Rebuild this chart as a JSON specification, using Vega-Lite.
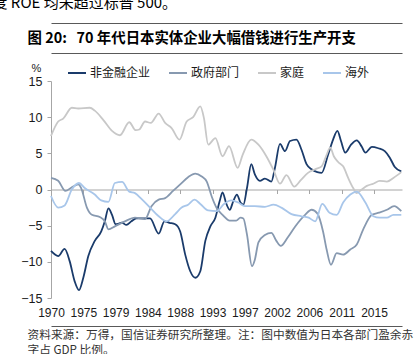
{
"$schema": "https://vega.github.io/schema/vega-lite/v6.json",
"width": 351, "height": 217,
"autosize": {"type": "none"},
"padding": {"left": 51, "top": 81, "right": 18, "bottom": 56},
"background": "white",
"config": {"view": {"stroke": null}, "font": "Liberation Sans"},
"data": {"values": [
{"s":"非金融企业","t":1970.5,"v":-8.5},{"s":"非金融企业","t":1971.5,"v":-9.2},{"s":"非金融企业","t":1972.4,"v":-8.2},{"s":"非金融企业","t":1973.1,"v":-9.9},{"s":"非金融企业","t":1973.8,"v":-12.7},{"s":"非金融企业","t":1974.4,"v":-13.9},{"s":"非金融企业","t":1975.0,"v":-12.2},{"s":"非金融企业","t":1975.7,"v":-9.2},{"s":"非金融企业","t":1976.6,"v":-7.1},{"s":"非金融企业","t":1977.5,"v":-5.8},{"s":"非金融企业","t":1978.0,"v":-4.4},{"s":"非金融企业","t":1978.5,"v":-2.6},{"s":"非金融企业","t":1979.0,"v":-3.5},{"s":"非金融企业","t":1979.5,"v":-4.8},{"s":"非金融企业","t":1980.4,"v":-4.6},{"s":"非金融企业","t":1981.0,"v":-4.9},{"s":"非金融企业","t":1981.7,"v":-4.4},{"s":"非金融企业","t":1982.4,"v":-4.0},{"s":"非金融企业","t":1983.4,"v":-4.0},{"s":"非金融企业","t":1984.3,"v":-4.0},{"s":"非金融企业","t":1985.5,"v":-6.1},{"s":"非金融企业","t":1986.3,"v":-4.4},{"s":"非金融企业","t":1987.0,"v":-4.6},{"s":"非金融企业","t":1987.8,"v":-4.8},{"s":"非金融企业","t":1988.5,"v":-5.8},{"s":"非金融企业","t":1989.2,"v":-9.0},{"s":"非金融企业","t":1989.9,"v":-11.3},{"s":"非金融企业","t":1990.6,"v":-12.2},{"s":"非金融企业","t":1991.3,"v":-11.3},{"s":"非金融企业","t":1992.0,"v":-7.1},{"s":"非金融企业","t":1992.7,"v":-5.1},{"s":"非金融企业","t":1993.4,"v":-3.9},{"s":"非金融企业","t":1994.0,"v":-1.6},{"s":"非金融企业","t":1994.4,"v":-0.4},{"s":"非金融企业","t":1994.9,"v":-1.9},{"s":"非金融企业","t":1995.4,"v":-2.8},{"s":"非金融企业","t":1995.9,"v":-1.6},{"s":"非金融企业","t":1996.4,"v":-0.7},{"s":"非金融企业","t":1996.9,"v":-1.8},{"s":"非金融企业","t":1997.3,"v":-2.1},{"s":"非金融企业","t":1997.8,"v":0.2},{"s":"非金融企业","t":1998.4,"v":3.5},{"s":"非金融企业","t":1998.9,"v":2.1},{"s":"非金融企业","t":1999.6,"v":1.2},{"s":"非金融企业","t":2000.3,"v":1.5},{"s":"非金融企业","t":2001.2,"v":1.1},{"s":"非金融企业","t":2001.7,"v":3.0},{"s":"非金融企业","t":2002.4,"v":6.3},{"s":"非金融企业","t":2003.1,"v":5.3},{"s":"非金融企业","t":2003.8,"v":6.7},{"s":"非金融企业","t":2004.7,"v":6.9},{"s":"非金融企业","t":2005.4,"v":5.5},{"s":"非金融企业","t":2006.1,"v":3.5},{"s":"非金融企业","t":2006.8,"v":2.8},{"s":"非金融企业","t":2007.6,"v":2.4},{"s":"非金融企业","t":2008.2,"v":2.3},{"s":"非金融企业","t":2009.1,"v":4.8},{"s":"非金融企业","t":2009.8,"v":6.9},{"s":"非金融企业","t":2010.4,"v":8.1},{"s":"非金融企业","t":2010.9,"v":6.7},{"s":"非金融企业","t":2011.5,"v":5.1},{"s":"非金融企业","t":2012.3,"v":6.2},{"s":"非金融企业","t":2013.1,"v":6.8},{"s":"非金融企业","t":2013.8,"v":5.9},{"s":"非金融企业","t":2014.3,"v":5.1},{"s":"非金融企业","t":2015.2,"v":5.9},{"s":"非金融企业","t":2016.1,"v":5.7},{"s":"非金融企业","t":2017.0,"v":5.3},{"s":"非金融企业","t":2017.7,"v":4.4},{"s":"非金融企业","t":2018.4,"v":3.1},{"s":"非金融企业","t":2019.3,"v":2.5},
{"s":"政府部门","t":1970.5,"v":1.6},{"s":"政府部门","t":1971.5,"v":1.2},{"s":"政府部门","t":1972.5,"v":-0.2},{"s":"政府部门","t":1973.4,"v":0.3},{"s":"政府部门","t":1974.3,"v":0.7},{"s":"政府部门","t":1974.7,"v":0.2},{"s":"政府部门","t":1975.5,"v":-2.5},{"s":"政府部门","t":1976.2,"v":-3.5},{"s":"政府部门","t":1977.3,"v":-3.8},{"s":"政府部门","t":1978.0,"v":-4.4},{"s":"政府部门","t":1978.5,"v":-5.5},{"s":"政府部门","t":1979.4,"v":-5.1},{"s":"政府部门","t":1980.8,"v":-4.4},{"s":"政府部门","t":1982.2,"v":-3.9},{"s":"政府部门","t":1983.6,"v":-4.1},{"s":"政府部门","t":1984.5,"v":-2.3},{"s":"政府部门","t":1985.5,"v":-1.4},{"s":"政府部门","t":1986.4,"v":-1.2},{"s":"政府部门","t":1987.5,"v":-0.2},{"s":"政府部门","t":1988.5,"v":0.7},{"s":"政府部门","t":1989.6,"v":1.7},{"s":"政府部门","t":1990.6,"v":2.2},{"s":"政府部门","t":1991.5,"v":1.8},{"s":"政府部门","t":1992.2,"v":1.1},{"s":"政府部门","t":1992.9,"v":-1.0},{"s":"政府部门","t":1993.6,"v":-2.6},{"s":"政府部门","t":1994.4,"v":-3.5},{"s":"政府部门","t":1995.4,"v":-4.3},{"s":"政府部门","t":1996.3,"v":-4.3},{"s":"政府部门","t":1996.9,"v":-3.9},{"s":"政府部门","t":1997.3,"v":-4.0},{"s":"政府部门","t":1997.8,"v":-6.2},{"s":"政府部门","t":1998.5,"v":-10.6},{"s":"政府部门","t":1998.9,"v":-9.7},{"s":"政府部门","t":1999.4,"v":-7.3},{"s":"政府部门","t":2000.3,"v":-6.3},{"s":"政府部门","t":2001.2,"v":-6.0},{"s":"政府部门","t":2001.9,"v":-7.1},{"s":"政府部门","t":2002.5,"v":-7.8},{"s":"政府部门","t":2003.5,"v":-6.6},{"s":"政府部门","t":2004.6,"v":-5.0},{"s":"政府部门","t":2005.9,"v":-3.5},{"s":"政府部门","t":2006.8,"v":-2.8},{"s":"政府部门","t":2007.6,"v":-3.3},{"s":"政府部门","t":2008.4,"v":-5.8},{"s":"政府部门","t":2008.9,"v":-8.3},{"s":"政府部门","t":2009.5,"v":-10.4},{"s":"政府部门","t":2010.3,"v":-8.8},{"s":"政府部门","t":2011.2,"v":-9.0},{"s":"政府部门","t":2012.2,"v":-8.3},{"s":"政府部门","t":2013.1,"v":-7.6},{"s":"政府部门","t":2014.0,"v":-5.5},{"s":"政府部门","t":2015.2,"v":-3.5},{"s":"政府部门","t":2016.2,"v":-3.2},{"s":"政府部门","t":2017.3,"v":-2.8},{"s":"政府部门","t":2018.3,"v":-2.3},{"s":"政府部门","t":2019.3,"v":-3.0},
{"s":"家庭","t":1970.5,"v":7.4},{"s":"家庭","t":1971.5,"v":9.4},{"s":"家庭","t":1972.2,"v":9.8},{"s":"家庭","t":1973.4,"v":11.3},{"s":"家庭","t":1974.3,"v":11.2},{"s":"家庭","t":1975.9,"v":11.3},{"s":"家庭","t":1976.6,"v":10.9},{"s":"家庭","t":1977.8,"v":9.6},{"s":"家庭","t":1979.0,"v":8.1},{"s":"家庭","t":1980.1,"v":7.5},{"s":"家庭","t":1981.4,"v":9.3},{"s":"家庭","t":1982.3,"v":8.2},{"s":"家庭","t":1982.8,"v":8.3},{"s":"家庭","t":1983.6,"v":9.4},{"s":"家庭","t":1984.4,"v":9.2},{"s":"家庭","t":1985.5,"v":10.5},{"s":"家庭","t":1986.4,"v":9.2},{"s":"家庭","t":1987.3,"v":8.5},{"s":"家庭","t":1988.4,"v":6.9},{"s":"家庭","t":1989.4,"v":9.4},{"s":"家庭","t":1990.3,"v":10.0},{"s":"家庭","t":1991.3,"v":11.5},{"s":"家庭","t":1991.8,"v":9.9},{"s":"家庭","t":1992.4,"v":6.2},{"s":"家庭","t":1993.4,"v":7.1},{"s":"家庭","t":1994.4,"v":4.6},{"s":"家庭","t":1995.3,"v":6.0},{"s":"家庭","t":1996.5,"v":3.0},{"s":"家庭","t":1997.2,"v":4.8},{"s":"家庭","t":1998.4,"v":6.9},{"s":"家庭","t":1999.4,"v":6.2},{"s":"家庭","t":2000.5,"v":4.6},{"s":"家庭","t":2001.5,"v":2.7},{"s":"家庭","t":2002.4,"v":0.8},{"s":"家庭","t":2003.3,"v":2.0},{"s":"家庭","t":2004.4,"v":0.4},{"s":"家庭","t":2005.3,"v":1.3},{"s":"家庭","t":2006.3,"v":2.3},{"s":"家庭","t":2007.3,"v":2.8},{"s":"家庭","t":2008.2,"v":3.2},{"s":"家庭","t":2008.9,"v":4.8},{"s":"家庭","t":2009.4,"v":5.8},{"s":"家庭","t":2009.9,"v":4.6},{"s":"家庭","t":2010.5,"v":3.8},{"s":"家庭","t":2011.2,"v":3.2},{"s":"家庭","t":2011.9,"v":1.6},{"s":"家庭","t":2012.6,"v":0.2},{"s":"家庭","t":2013.1,"v":-0.5},{"s":"家庭","t":2013.8,"v":0.0},{"s":"家庭","t":2014.5,"v":0.5},{"s":"家庭","t":2015.4,"v":0.8},{"s":"家庭","t":2016.3,"v":1.2},{"s":"家庭","t":2017.3,"v":1.1},{"s":"家庭","t":2018.2,"v":1.6},{"s":"家庭","t":2019.3,"v":2.4},
{"s":"海外","t":1970.5,"v":-0.9},{"s":"海外","t":1971.5,"v":-2.5},{"s":"海外","t":1972.4,"v":-2.2},{"s":"海外","t":1973.4,"v":0.0},{"s":"海外","t":1974.4,"v":0.9},{"s":"海外","t":1975.2,"v":0.2},{"s":"海外","t":1976.6,"v":-0.7},{"s":"海外","t":1977.5,"v":-1.5},{"s":"海外","t":1978.5,"v":-1.7},{"s":"海外","t":1979.4,"v":0.9},{"s":"海外","t":1980.4,"v":1.05},{"s":"海外","t":1981.4,"v":-0.3},{"s":"海外","t":1982.2,"v":-0.5},{"s":"海外","t":1983.1,"v":-1.3},{"s":"海外","t":1984.3,"v":-2.5},{"s":"海外","t":1985.5,"v":-3.7},{"s":"海外","t":1986.6,"v":-4.4},{"s":"海外","t":1987.8,"v":-3.4},{"s":"海外","t":1988.7,"v":-2.5},{"s":"海外","t":1989.6,"v":-2.1},{"s":"海外","t":1990.5,"v":-1.4},{"s":"海外","t":1991.3,"v":-2.0},{"s":"海外","t":1992.4,"v":-2.9},{"s":"海外","t":1993.6,"v":-3.0},{"s":"海外","t":1994.6,"v":-2.0},{"s":"海外","t":1995.6,"v":-1.5},{"s":"海外","t":1996.6,"v":-1.8},{"s":"海外","t":1997.5,"v":-2.3},{"s":"海外","t":1998.9,"v":-2.3},{"s":"海外","t":2000.3,"v":-2.4},{"s":"海外","t":2001.5,"v":-2.1},{"s":"海外","t":2002.6,"v":-2.5},{"s":"海外","t":2004.0,"v":-3.4},{"s":"海外","t":2005.4,"v":-3.7},{"s":"海外","t":2006.4,"v":-3.9},{"s":"海外","t":2007.3,"v":-4.4},{"s":"海外","t":2008.3,"v":-2.0},{"s":"海外","t":2009.3,"v":-3.2},{"s":"海外","t":2010.3,"v":-3.5},{"s":"海外","t":2011.2,"v":-1.8},{"s":"海外","t":2012.2,"v":-0.7},{"s":"海外","t":2013.1,"v":-0.3},{"s":"海外","t":2014.3,"v":-1.8},{"s":"海外","t":2015.4,"v":-3.7},{"s":"海外","t":2016.3,"v":-3.9},{"s":"海外","t":2017.3,"v":-3.9},{"s":"海外","t":2018.2,"v":-3.5},{"s":"海外","t":2019.3,"v":-3.5}
]},
"resolve": {"axis": {"x": "independent"}},
"layer": [
{
"mark": {"type": "line", "interpolate": "monotone", "strokeWidth": 1.8},
"encoding": {
  "x": {"field": "t", "type": "quantitative",
    "scale": {"domain": [1970.5, 2019.4], "nice": false, "zero": false},
    "axis": {"values": [1970.5,1975,1979.5,1984,1988.5,1993,1997.5,2002,2006.5,2011,2015.5],
      "labelExpr": "floor(datum.value)", "offset": -108.5, "grid": false,
      "domainColor": "#a6a6a6", "tickColor": "#a6a6a6", "tickSize": 4, "labelPadding": 114,
      "labelFont": "Liberation Sans", "labelFontSize": 12, "labelColor": "#1a1a1a",
      "labelFlush": false, "labelOverlap": false,
      "title": ["资料来源：万得，国信证券研究所整理。注：图中数值为日本各部门盈余赤", "字占 GDP 比例。"],
      "titleFont": "Noto Sans CJK SC", "titleFontSize": 11.7, "titleFontWeight": "normal", "titleColor": "#333333",
      "titleAnchor": "start", "titleAlign": "left", "titleX": -24, "titleY": 140, "titleBaseline": "top", "titleLineHeight": 15}},
  "y": {"field": "v", "type": "quantitative",
    "scale": {"domain": [-15, 15], "nice": false, "zero": false},
    "axis": {"values": [-15,-10,-5,0,5,10,15], "grid": false,
      "domainColor": "#a6a6a6", "tickColor": "#a6a6a6", "tickSize": 4, "labelPadding": 5,
      "labelFont": "Liberation Sans", "labelFontSize": 12.5, "labelColor": "#1a1a1a",
      "title": "%", "titleAngle": 0, "titleX": -15, "titleY": -13, "titleFont": "Liberation Sans",
      "titleFontSize": 11, "titleFontWeight": "normal", "titleColor": "#1a1a1a", "titleAlign": "center", "titleBaseline": "middle"}},
  "color": {"field": "s", "type": "nominal",
    "scale": {"domain": ["非金融企业","政府部门","家庭","海外"], "range": ["#1a3b6b","#8799b0","#c8c8c8","#a8c6ea"]},
    "legend": {"orient": "none", "direction": "horizontal", "legendX": 16, "legendY": -18, "title": null,
      "symbolType": "stroke", "symbolSize": 324, "symbolStrokeWidth": 2,
      "labelFont": "Noto Sans CJK SC", "labelFontSize": 12, "labelColor": "#1a1a1a",
      "columnPadding": 14, "labelOffset": 3, "padding": 0}}
}
},
{
"mark": {"type": "point", "opacity": 0},
"encoding": {
  "x": {"field": "t", "type": "quantitative",
    "axis": {"orient": "top", "offset": 28, "domain": true, "domainColor": "#595959", "domainWidth": 1,
      "ticks": false, "labels": false, "grid": false,
      "title": "度 ROE 均未超过标普 500。", "titleFont": "Noto Sans CJK SC", "titleFontSize": 15,
      "titleFontWeight": "normal", "titleColor": "#000000", "titleAngle": 0,
      "titleAnchor": "start", "titleAlign": "left", "titleX": -59, "titleY": -46, "titleBaseline": "alphabetic"}}
}
},
{
"mark": {"type": "point", "opacity": 0},
"encoding": {
  "x": {"field": "t", "type": "quantitative",
    "axis": {"orient": "top", "offset": 58, "domain": true, "domainColor": "#595959", "domainWidth": 1,
      "ticks": false, "labels": false, "grid": false,
      "title": "图\u00a020:\u00a0\u00a0\u00a070\u00a0年代日本实体企业大幅借钱进行生产开支", "titleFont": "Noto Sans CJK SC", "titleFontSize": 14.4,
      "titleFontWeight": "bold", "titleColor": "#000000", "titleAngle": 0,
      "titleAnchor": "start", "titleAlign": "left", "titleX": -24, "titleY": 19, "titleBaseline": "alphabetic"}}
}
},
{
"mark": {"type": "point", "opacity": 0},
"encoding": {
  "x": {"field": "t", "type": "quantitative",
    "axis": {"orient": "bottom", "offset": 28, "domain": true, "domainColor": "#595959", "domainWidth": 1,
      "ticks": false, "labels": false, "grid": false, "title": null}}
}
}
]
}
